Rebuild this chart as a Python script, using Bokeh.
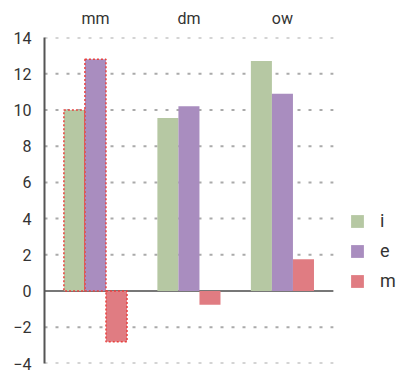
from bokeh.plotting import figure
from bokeh.models import (ColumnDataSource, Range1d, Legend, LegendItem, CDSView,
                          IndexFilter, FixedTicker)
from bokeh.transform import dodge
from bokeh.embed import file_html
from bokeh.resources import INLINE

categories = ["mm", "dm", "ow"]
series = ["i", "e", "m"]
i_vals = [10.0, 9.55, 12.7]
e_vals = [12.8, 10.2, 10.9]
m_vals = [-2.8, -0.75, 1.75]
y_ticks = [-4, -2, 0, 2, 4, 6, 8, 10, 12, 14]
colors = ["#b6c8a3", "#a98dbf", "#e07c82"]
highlight = [0]  # "mm" bars drawn with dotted outline

xpos = list(range(len(categories)))
src = ColumnDataSource(dict(x=xpos, i=i_vals, e=e_vals, m=m_vals))

# plot area: categories occupy [-0.545, 2.545]; extra room on the right for the legend
x_lo, x_hi = -0.545, len(categories) - 0.455
p = figure(x_range=Range1d(x_lo, 3.295), y_range=(-4, 14), width=403, height=375,
           x_axis_location="above", output_backend="svg", toolbar_location=None,
           min_border_left=44, min_border_right=0, min_border_top=37, min_border_bottom=12)
p.outline_line_color = None
p.xgrid.grid_line_color = None
p.ygrid.grid_line_color = None

# dotted grid lines and solid zero line, only across the category area
grid_y = [t for t in y_ticks if t != 0]
p.segment(x0=[x_lo] * len(grid_y), x1=[x_hi] * len(grid_y), y0=grid_y, y1=grid_y,
          line_color="#aaaaaa", line_width=2, line_dash="3 8")
p.segment(x0=[x_lo], x1=[x_hi], y0=[0], y1=[0], line_color="#777777", line_width=2)

bw = 0.225
offsets = [-bw, 0.0, bw]
items = []
view = CDSView(filter=IndexFilter(highlight))
for s, off, col in zip(series, offsets, colors):
    r = p.vbar(x=dodge("x", off), top=s, bottom=0, width=bw,
               source=src, fill_color=col, line_color=None)
    p.vbar(x=dodge("x", off), top=s, bottom=0, width=bw,
           source=src, view=view, fill_color=None, line_color="#e8423f",
           line_width=1.5, line_dash="2 2")
    items.append(LegendItem(label=s, renderers=[r]))

p.yaxis.ticker = FixedTicker(ticks=y_ticks)
p.yaxis.axis_line_color = "#555555"
p.yaxis.axis_line_width = 2
p.yaxis.major_tick_line_color = None
p.yaxis.minor_tick_line_color = None
p.yaxis.major_label_text_font = "Roboto"
p.yaxis.major_label_text_font_size = "16px"
p.yaxis.major_label_text_color = "#333333"
p.yaxis.major_label_standoff = 7

p.xaxis.ticker = FixedTicker(ticks=xpos)
p.xaxis.major_label_overrides = {i: c for i, c in zip(xpos, categories)}
p.xaxis.axis_line_color = None
p.xaxis.major_tick_line_color = None
p.xaxis.minor_tick_line_color = None
p.xaxis.major_label_text_font = "Roboto"
p.xaxis.major_label_text_font_size = "16px"
p.xaxis.major_label_text_color = "#333333"
p.xaxis.major_label_standoff = 4

legend = Legend(items=items, location=(305, 72), padding=0, margin=0,
                glyph_width=16, glyph_height=16, label_height=16, spacing=9,
                label_standoff=15, border_line_color=None, background_fill_alpha=0,
                label_text_font="Roboto", label_text_font_size="18px",
                label_text_color="#333333")
p.add_layout(legend)

open("out.html", "w").write(file_html(p, INLINE))
